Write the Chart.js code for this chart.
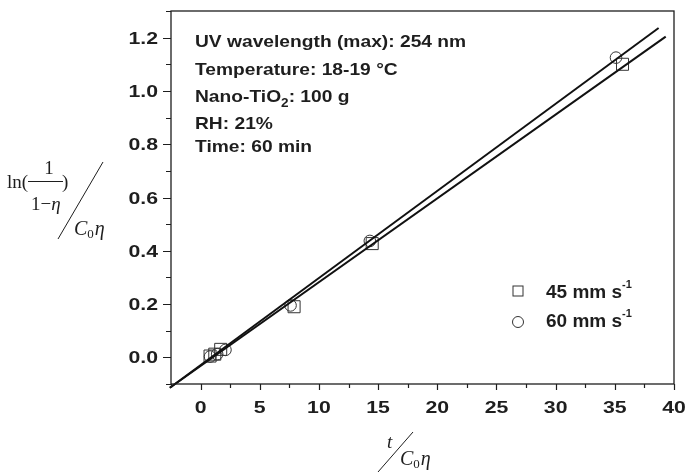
<!DOCTYPE html>
<html>
<head>
<meta charset="utf-8">
<script src="https://cdn.jsdelivr.net/npm/chart.js@4.4.0/dist/chart.umd.min.js"></script>
<style>
  html, body { margin: 0; padding: 0; background: #fff; }
</style>
</head>
<body>
<canvas id="chart" width="686" height="474"></canvas>
<script>
// measured points (t / C0η , ln(1/(1-η)) / C0η)
const sq45X = [0.8, 1.2, 1.7, 7.9, 14.5, 35.65];
const sq45Y = [0.005, 0.012, 0.03, 0.19, 0.427, 1.10];
const ci60X = [0.8, 1.4, 2.1, 7.6, 14.3, 35.1];
const ci60Y = [0.003, 0.012, 0.028, 0.195, 0.437, 1.125];

// fitted lines, end points
const fit45X = [-2.6, 39.3];
const fit45Y = [-0.114, 1.204];
const fit60X = [-2.6, 38.7];
const fit60Y = [-0.114, 1.236];

const xTicks = [0, 5, 10, 15, 20, 25, 30, 35, 40];
const yTicks = [0.0, 0.2, 0.4, 0.6, 0.8, 1.0, 1.2];

const seriesNames = ["45 mm s", "60 mm s"];
const seriesUnitSup = "-1";
const notes = [
  "UV wavelength (max): 254 nm",
  "Temperature: 18-19 °C",
  "Nano-TiO_2: 100 g",
  "RH: 21%",
  "Time: 60 min"
];

const INK = "#1e1e1e";
const SANS = '"Liberation Sans", Arial, sans-serif';
const SERIF = '"Liberation Serif", "Times New Roman", serif';

const toPts = (xs, ys) => xs.map((x, i) => ({ x: x, y: ys[i] }));

// bold sans text, stretched a bit sideways like the original
function drawWide(ctx, str, x, y, size, sx, align) {
  ctx.save();
  ctx.translate(x, y);
  ctx.scale(sx, 1);
  ctx.font = "bold " + size + "px " + SANS;
  ctx.textAlign = align || "left";
  ctx.fillText(str, 0, 0);
  ctx.restore();
}

// text with _x subscript
function drawRich(ctx, str, x, y, size, sx) {
  ctx.save();
  ctx.translate(x, y);
  ctx.scale(sx, 1);
  ctx.textAlign = "left";
  let cx = 0;
  str.split(/_(\w)/).forEach((p, i) => {
    if (i % 2 === 1) {
      ctx.font = "bold " + Math.round(size * 0.68) + "px " + SANS;
      ctx.fillText(p, cx, size * 0.28);
    } else {
      ctx.font = "bold " + size + "px " + SANS;
      ctx.fillText(p, cx, 0);
    }
    cx += ctx.measureText(p).width;
  });
  ctx.restore();
}

// serif "C0η" with italic C and η
function drawC0eta(ctx, x, y) {
  ctx.font = "italic 20px " + SERIF;
  ctx.fillText("C", x, y);
  x += ctx.measureText("C").width;
  ctx.font = "13px " + SERIF;
  ctx.fillText("0", x, y + 3);
  x += ctx.measureText("0").width + 1;
  ctx.font = "italic 20px " + SERIF;
  ctx.fillText("η", x, y);
}

const decor = {
  id: "decor",
  afterDraw(chart) {
    const ctx = chart.ctx;
    const a = chart.chartArea;
    const xs = chart.scales.x, ys = chart.scales.y;
    ctx.save();
    ctx.strokeStyle = INK;
    ctx.fillStyle = INK;
    ctx.textBaseline = "alphabetic";

    // frame
    ctx.lineWidth = 1.3;
    ctx.strokeRect(a.left, a.top, a.right - a.left, a.bottom - a.top);

    // ticks
    ctx.lineWidth = 1.2;
    ctx.beginPath();
    for (let k = -1; k <= 13; k++) {
      const py = Math.round(ys.getPixelForValue(k / 10)) + 0.5;
      const len = (k >= 0 && k % 2 === 0) ? 8 : 5;
      ctx.moveTo(a.left, py);
      ctx.lineTo(a.left - len, py);
    }
    for (let k = -1; k <= 16; k++) {
      const px = Math.round(xs.getPixelForValue(k * 2.5)) + 0.5;
      const len = (k >= 0 && k % 2 === 0) ? 6 : 4;
      ctx.moveTo(px, a.bottom);
      ctx.lineTo(px, a.bottom + len);
    }
    ctx.stroke();

    // tick labels
    yTicks.forEach((v) => {
      drawWide(ctx, v.toFixed(1), a.left - 13, ys.getPixelForValue(v) + 6, 17, 1.25, "right");
    });
    xTicks.forEach((v) => {
      drawWide(ctx, String(v), xs.getPixelForValue(v), 413, 17, 1.25, "center");
    });

    // condition notes
    const noteY = [47, 75, 102, 129, 152];
    notes.forEach((n, i) => drawRich(ctx, n, 195, noteY[i], 17, 1.13));

    // legend
    ctx.lineWidth = 1;
    ctx.strokeStyle = "#333";
    ctx.strokeRect(513, 286, 10, 10);
    ctx.beginPath();
    ctx.arc(518, 322, 5.5, 0, Math.PI * 2);
    ctx.stroke();
    const legY = [298, 327];
    seriesNames.forEach((n, i) => {
      ctx.font = "bold 19px " + SANS;
      ctx.textAlign = "left";
      ctx.fillText(n, 546, legY[i]);
      const w = ctx.measureText(n).width;
      ctx.font = "bold 11px " + SANS;
      ctx.fillText(seriesUnitSup, 546 + w, legY[i] - 10);
    });

    // y axis title: ln(1/(1-η)) / C0η
    ctx.lineWidth = 1;
    ctx.strokeStyle = INK;
    ctx.font = "19px " + SERIF;
    ctx.fillText("ln(", 7, 188);
    ctx.textAlign = "center";
    ctx.fillText("1", 49, 174);
    ctx.textAlign = "left";
    ctx.beginPath();
    ctx.moveTo(28, 181.5);
    ctx.lineTo(63, 181.5);
    ctx.stroke();
    ctx.fillText(")", 62, 188);
    ctx.fillText("1−", 31, 210);
    const w1 = ctx.measureText("1−").width;
    ctx.font = "italic 19px " + SERIF;
    ctx.fillText("η", 31 + w1, 210);
    ctx.beginPath();
    ctx.moveTo(58, 239);
    ctx.lineTo(103, 162);
    ctx.stroke();
    drawC0eta(ctx, 74, 235);

    // x axis title: t / C0η
    ctx.font = "italic 19px " + SERIF;
    ctx.fillText("t", 387, 448);
    ctx.beginPath();
    ctx.moveTo(378, 472);
    ctx.lineTo(413, 432);
    ctx.stroke();
    drawC0eta(ctx, 400, 465);

    ctx.restore();
  }
};

new Chart(document.getElementById("chart"), {
  type: "scatter",
  data: {
    datasets: [
      {
        label: "fit 60",
        data: toPts(fit60X, fit60Y),
        showLine: true,
        borderColor: "#111",
        borderWidth: 2,
        pointRadius: 0,
        clip: false
      },
      {
        label: "fit 45",
        data: toPts(fit45X, fit45Y),
        showLine: true,
        borderColor: "#111",
        borderWidth: 2,
        pointRadius: 0,
        clip: false
      },
      {
        label: seriesNames[0] + seriesUnitSup,
        data: toPts(sq45X, sq45Y),
        pointStyle: "rect",
        pointRadius: 8.5,
        borderColor: "#333",
        borderWidth: 1,
        backgroundColor: "transparent"
      },
      {
        label: seriesNames[1] + seriesUnitSup,
        data: toPts(ci60X, ci60Y),
        pointStyle: "circle",
        pointRadius: 5.8,
        borderColor: "#333",
        borderWidth: 1,
        backgroundColor: "transparent"
      }
    ]
  },
  options: {
    responsive: false,
    animation: false,
    layout: { padding: { top: 11, right: 12, left: 0, bottom: 0 } },
    plugins: {
      legend: { display: false },
      tooltip: { enabled: false }
    },
    scales: {
      x: {
        type: "linear",
        min: -2.5,
        max: 40,
        grid: { display: false, drawTicks: false },
        border: { display: false },
        ticks: { display: false, stepSize: 2.5 },
        afterFit: (s) => {
          s.height = 90;
          s.paddingLeft = 0;
          s.paddingRight = 0;
        }
      },
      y: {
        type: "linear",
        min: -0.1,
        max: 1.3,
        grid: { display: false, drawTicks: false },
        border: { display: false },
        ticks: { display: false, stepSize: 0.1 },
        afterFit: (s) => {
          s.width = 171;
          s.paddingTop = 0;
          s.paddingBottom = 0;
        }
      }
    }
  },
  plugins: [decor]
});
</script>
</body>
</html>
